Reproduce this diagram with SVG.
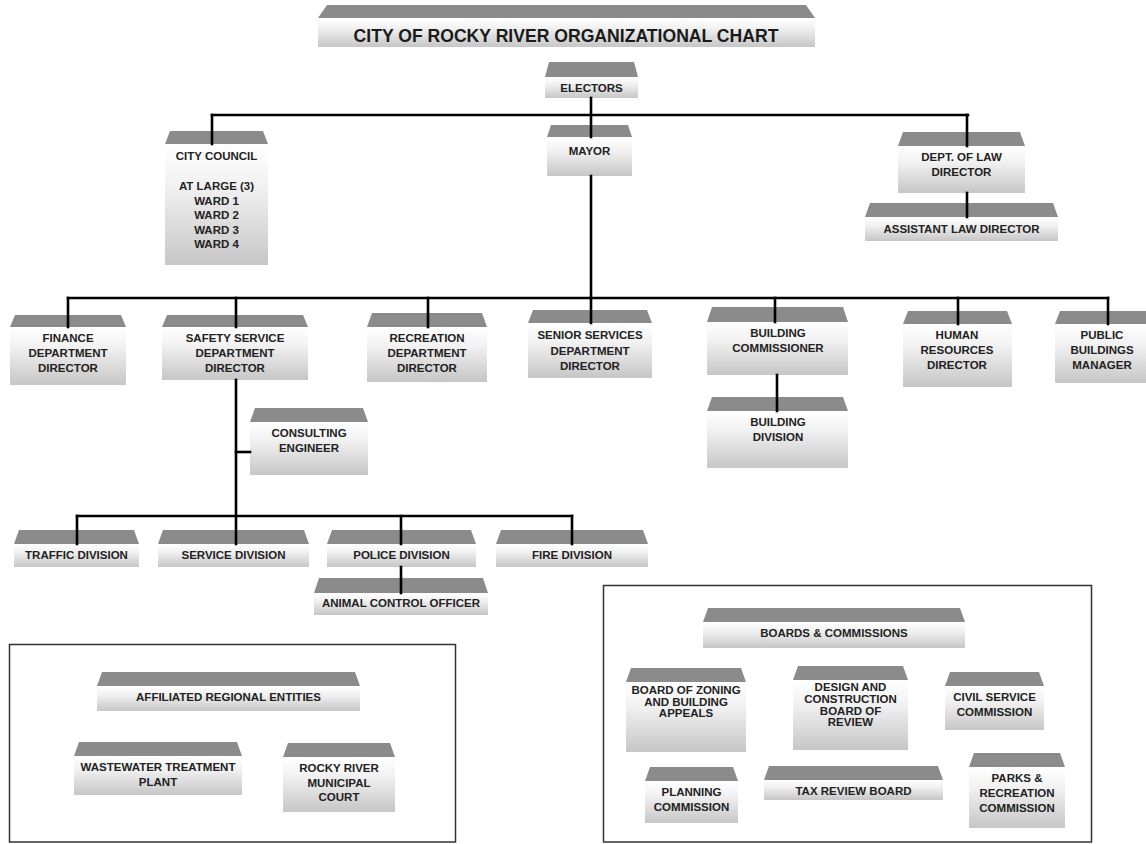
<svg xmlns="http://www.w3.org/2000/svg" width="1146" height="844" viewBox="0 0 1146 844">
<defs>
<linearGradient id="bodyGrad" x1="0" y1="0" x2="0" y2="1">
<stop offset="0" stop-color="#ffffff"/>
<stop offset="0.35" stop-color="#f1f1f1"/>
<stop offset="1" stop-color="#c6c6c6"/>
</linearGradient>
<style>
.top{fill:#8b8b8b;}
.body{fill:url(#bodyGrad);}
.lbl{font-family:"Liberation Sans",Arial,sans-serif;font-weight:bold;font-size:11.5px;fill:#222;text-anchor:middle;}
.ttl{font-family:"Liberation Sans",Arial,sans-serif;font-weight:bold;font-size:17.6px;fill:#1a1a1a;text-anchor:middle;}
.conn{stroke:#000;stroke-width:2.6;fill:none;stroke-linecap:square;}
.panel{fill:none;stroke:#333;stroke-width:1.5;}
</style>
</defs>
<rect width="1146" height="844" fill="#ffffff"/>

<g id="panels">
<rect class="panel" x="9.5" y="644.5" width="446" height="197.5"/>
<rect class="panel" x="603.5" y="585.5" width="488" height="256.5"/>
</g>

<g id="title">
<polygon class="top" points="318,18 327,5 806,5 815,18"/>
<rect class="body" x="318" y="18" width="497" height="29"/>
<text class="ttl" x="566" y="42">CITY OF ROCKY RIVER ORGANIZATIONAL CHART</text>
</g>

<g id="electors">
<polygon class="top" points="545,77 549,62 634,62 638,77"/>
<rect class="body" x="545" y="77" width="93" height="21"/>
<text class="lbl" x="591.5" y="92">ELECTORS</text>
</g>

<g id="city-council">
<polygon class="top" points="165,144 170,131 263,131 268,144"/>
<rect class="body" x="165" y="144" width="103" height="121"/>
<text class="lbl"><tspan x="216.5" y="160">CITY COUNCIL</tspan><tspan x="216.5" y="190">AT LARGE (3)</tspan><tspan x="216.5" y="204.6">WARD 1</tspan><tspan x="216.5" y="219.2">WARD 2</tspan><tspan x="216.5" y="233.8">WARD 3</tspan><tspan x="216.5" y="248.4">WARD 4</tspan></text>
</g>

<g id="mayor">
<polygon class="top" points="547,137 551,125 628,125 632,137"/>
<rect class="body" x="547" y="137" width="85" height="39"/>
<text class="lbl" x="589.5" y="155">MAYOR</text>
</g>

<g id="dept-law">
<polygon class="top" points="898,146 903,132 1020,132 1025,146"/>
<rect class="body" x="898" y="146" width="127" height="47"/>
<text class="lbl"><tspan x="961.5" y="161">DEPT. OF LAW</tspan><tspan x="961.5" y="176">DIRECTOR</tspan></text>
</g>

<g id="assistant-law">
<polygon class="top" points="865,217 870,203 1053,203 1058,217"/>
<rect class="body" x="865" y="217" width="193" height="24"/>
<text class="lbl" x="961.5" y="233">ASSISTANT LAW DIRECTOR</text>
</g>

<g id="finance">
<polygon class="top" points="10,327 15,315 121,315 126,327"/>
<rect class="body" x="10" y="327" width="116" height="58"/>
<text class="lbl"><tspan x="68" y="342">FINANCE</tspan><tspan x="68" y="357">DEPARTMENT</tspan><tspan x="68" y="372">DIRECTOR</tspan></text>
</g>

<g id="safety-service">
<polygon class="top" points="162,327 167,315 303,315 308,327"/>
<rect class="body" x="162" y="327" width="146" height="53"/>
<text class="lbl"><tspan x="235" y="342">SAFETY SERVICE</tspan><tspan x="235" y="357">DEPARTMENT</tspan><tspan x="235" y="372">DIRECTOR</tspan></text>
</g>

<g id="recreation">
<polygon class="top" points="367,327 372,313 482,313 487,327"/>
<rect class="body" x="367" y="327" width="120" height="55"/>
<text class="lbl"><tspan x="427" y="342">RECREATION</tspan><tspan x="427" y="357">DEPARTMENT</tspan><tspan x="427" y="372">DIRECTOR</tspan></text>
</g>

<g id="senior-services">
<polygon class="top" points="528,323 533,310 647,310 652,323"/>
<rect class="body" x="528" y="323" width="124" height="55"/>
<text class="lbl"><tspan x="590" y="339">SENIOR SERVICES</tspan><tspan x="590" y="354.5">DEPARTMENT</tspan><tspan x="590" y="370">DIRECTOR</tspan></text>
</g>

<g id="building-commissioner">
<polygon class="top" points="707,322 712,307 843,307 848,322"/>
<rect class="body" x="707" y="322" width="141" height="53"/>
<text class="lbl"><tspan x="778" y="337">BUILDING</tspan><tspan x="778" y="352">COMMISSIONER</tspan></text>
</g>

<g id="building-division">
<polygon class="top" points="707,411 712,397 843,397 848,411"/>
<rect class="body" x="707" y="411" width="141" height="57"/>
<text class="lbl"><tspan x="778" y="426">BUILDING</tspan><tspan x="778" y="441">DIVISION</tspan></text>
</g>

<g id="human-resources">
<polygon class="top" points="903,324 908,311 1007,311 1012,324"/>
<rect class="body" x="903" y="324" width="109" height="63"/>
<text class="lbl"><tspan x="957" y="339">HUMAN</tspan><tspan x="957" y="354">RESOURCES</tspan><tspan x="957" y="369">DIRECTOR</tspan></text>
</g>

<g id="public-buildings">
<polygon class="top" points="1055,324 1060,311 1146,311 1150,324"/>
<rect class="body" x="1055" y="324" width="95" height="59"/>
<text class="lbl"><tspan x="1102" y="339">PUBLIC</tspan><tspan x="1102" y="354">BUILDINGS</tspan><tspan x="1102" y="369">MANAGER</tspan></text>
</g>

<g id="consulting-engineer">
<polygon class="top" points="250,422 255,408 363,408 368,422"/>
<rect class="body" x="250" y="422" width="118" height="53"/>
<text class="lbl"><tspan x="309" y="437">CONSULTING</tspan><tspan x="309" y="452">ENGINEER</tspan></text>
</g>

<g id="traffic-division">
<polygon class="top" points="14,544 19,530 134,530 139,544"/>
<rect class="body" x="14" y="544" width="125" height="23"/>
<text class="lbl" x="76.5" y="559">TRAFFIC DIVISION</text>
</g>

<g id="service-division">
<polygon class="top" points="158,544 163,530 304,530 309,544"/>
<rect class="body" x="158" y="544" width="151" height="23"/>
<text class="lbl" x="233.5" y="559">SERVICE DIVISION</text>
</g>

<g id="police-division">
<polygon class="top" points="327,544 332,530 471,530 476,544"/>
<rect class="body" x="327" y="544" width="149" height="23"/>
<text class="lbl" x="401.5" y="559">POLICE DIVISION</text>
</g>

<g id="fire-division">
<polygon class="top" points="496,544 501,530 643,530 648,544"/>
<rect class="body" x="496" y="544" width="152" height="23"/>
<text class="lbl" x="572" y="559">FIRE DIVISION</text>
</g>

<g id="animal-control">
<polygon class="top" points="314,593 319,578 483,578 488,593"/>
<rect class="body" x="314" y="593" width="174" height="22"/>
<text class="lbl" x="401" y="607">ANIMAL CONTROL OFFICER</text>
</g>

<g id="affiliated">
<polygon class="top" points="97,686 102,672 355,672 360,686"/>
<rect class="body" x="97" y="686" width="263" height="25"/>
<text class="lbl" x="228.5" y="701">AFFILIATED REGIONAL ENTITIES</text>
</g>

<g id="wastewater">
<polygon class="top" points="74,756 79,742 237,742 242,756"/>
<rect class="body" x="74" y="756" width="168" height="39"/>
<text class="lbl"><tspan x="158" y="771">WASTEWATER TREATMENT</tspan><tspan x="158" y="786">PLANT</tspan></text>
</g>

<g id="municipal-court">
<polygon class="top" points="283,757 288,743 390,743 395,757"/>
<rect class="body" x="283" y="757" width="112" height="55"/>
<text class="lbl"><tspan x="339" y="772">ROCKY RIVER</tspan><tspan x="339" y="787">MUNICIPAL</tspan><tspan x="339" y="801">COURT</tspan></text>
</g>

<g id="boards-commissions">
<polygon class="top" points="703,622 708,608 960,608 965,622"/>
<rect class="body" x="703" y="622" width="262" height="26"/>
<text class="lbl" x="834" y="637">BOARDS &amp; COMMISSIONS</text>
</g>

<g id="zoning-appeals">
<polygon class="top" points="626,682 631,668 741,668 746,682"/>
<rect class="body" x="626" y="682" width="120" height="70"/>
<text class="lbl"><tspan x="686" y="694">BOARD OF ZONING</tspan><tspan x="686" y="705.5">AND BUILDING</tspan><tspan x="686" y="717">APPEALS</tspan></text>
</g>

<g id="design-construction">
<polygon class="top" points="793,680 798,666 903,666 908,680"/>
<rect class="body" x="793" y="680" width="115" height="70"/>
<text class="lbl"><tspan x="850.5" y="691">DESIGN AND</tspan><tspan x="850.5" y="703">CONSTRUCTION</tspan><tspan x="850.5" y="715">BOARD OF</tspan><tspan x="850.5" y="726">REVIEW</tspan></text>
</g>

<g id="civil-service">
<polygon class="top" points="945,686 950,672 1039,672 1044,686"/>
<rect class="body" x="945" y="686" width="99" height="44"/>
<text class="lbl"><tspan x="994.5" y="701">CIVIL SERVICE</tspan><tspan x="994.5" y="716">COMMISSION</tspan></text>
</g>

<g id="planning">
<polygon class="top" points="645,781 650,767 733,767 738,781"/>
<rect class="body" x="645" y="781" width="93" height="42"/>
<text class="lbl"><tspan x="691.5" y="796">PLANNING</tspan><tspan x="691.5" y="811">COMMISSION</tspan></text>
</g>

<g id="tax-review">
<polygon class="top" points="764,780 769,766 938,766 943,780"/>
<rect class="body" x="764" y="780" width="179" height="20"/>
<text class="lbl" x="853.5" y="795">TAX REVIEW BOARD</text>
</g>

<g id="parks-recreation">
<polygon class="top" points="969,767 974,753 1060,753 1065,767"/>
<rect class="body" x="969" y="767" width="96" height="61"/>
<text class="lbl"><tspan x="1017" y="782">PARKS &amp;</tspan><tspan x="1017" y="797">RECREATION</tspan><tspan x="1017" y="812">COMMISSION</tspan></text>
</g>

<g id="connectors">
<path class="conn" d="M591,98 V137"/>
<path class="conn" d="M212,115 H968"/>
<path class="conn" d="M212,115 V144"/>
<path class="conn" d="M967,115 V146"/>
<path class="conn" d="M967,193 V217"/>
<path class="conn" d="M591,176 V298"/>
<path class="conn" d="M68,298 H1108"/>
<path class="conn" d="M68,298 V327"/>
<path class="conn" d="M236,298 V327"/>
<path class="conn" d="M428,298 V327"/>
<path class="conn" d="M591,298 V323"/>
<path class="conn" d="M775,298 V322"/>
<path class="conn" d="M958,298 V324"/>
<path class="conn" d="M1108,298 V324"/>
<path class="conn" d="M777,375 V411"/>
<path class="conn" d="M236,380 V544"/>
<path class="conn" d="M236,452 H250"/>
<path class="conn" d="M77,516 H572"/>
<path class="conn" d="M77,516 V544"/>
<path class="conn" d="M401,516 V544"/>
<path class="conn" d="M572,516 V544"/>
<path class="conn" d="M401,567 V593"/>
</g>
</svg>
